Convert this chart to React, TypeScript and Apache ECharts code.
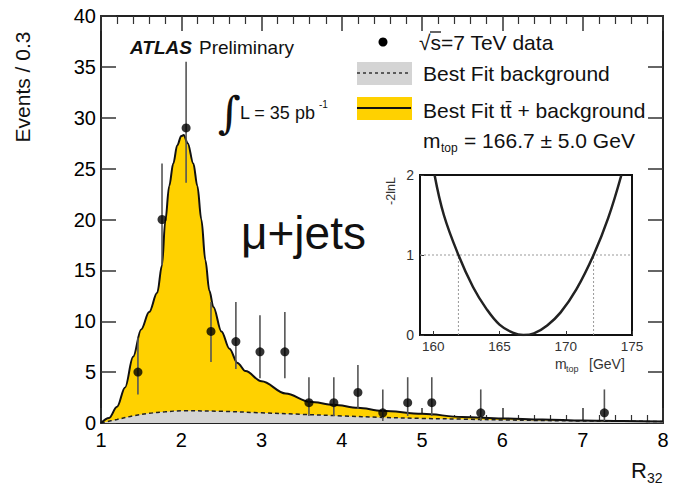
import { useEffect, useRef } from "react";
import * as echarts from "echarts";

// Measured R32 distribution (events per 0.3 bin)
const dataR32 = [1.46, 1.76, 2.06, 2.37, 2.68, 2.98, 3.29, 3.59, 3.9, 4.2, 4.51, 4.82, 5.12, 5.73, 7.27];
const dataEvents = [5, 20, 29, 9, 8, 7, 7, 2, 2, 3, 1, 2, 2, 1, 1];
const errLow = [2.8, 15.5, 23.6, 6.0, 5.3, 4.4, 4.4, 0.7, 0.7, 1.4, 0.2, 0.7, 0.7, 0.2, 0.2];
const errHigh = [8.4, 25.5, 35.5, 11.9, 11.9, 10.6, 10.9, 4.5, 4.5, 5.7, 3.3, 4.5, 4.5, 3.3, 3.3];

// Best fit ttbar + background template
const fitR32 = [1.0, 1.1, 1.2, 1.3, 1.4, 1.5, 1.6, 1.7, 1.76, 1.8, 1.85, 1.9, 1.95, 2.0, 2.03, 2.08, 2.15, 2.2, 2.25, 2.3, 2.35, 2.4, 2.5, 2.6, 2.7, 2.8, 3.0, 3.3, 3.6, 3.9, 4.2, 4.5, 5.0, 5.5, 6.0, 6.5, 7.0, 7.5, 8.0];
const fitTotal = [0, 0.5, 1.6, 3.5, 6.5, 9.2, 10.9, 12.8, 15.5, 19.8, 23.3, 25.5, 27.3, 28.2, 28.3, 27.5, 25.5, 23.3, 20.0, 16.0, 13.0, 11.4, 9.0, 7.3, 5.9, 5.1, 4.1, 2.9, 2.1, 1.8, 1.5, 1.2, 0.9, 0.6, 0.45, 0.35, 0.25, 0.2, 0.15];

// Best fit background only
const bkgR32 = [1.0, 1.2, 1.4, 1.6, 1.8, 2.0, 2.5, 3.0, 3.5, 4.0, 4.5, 5.0, 5.5, 6.0, 7.0, 8.0];
const bkgEvents = [0, 0.35, 0.7, 0.95, 1.1, 1.2, 1.15, 1.0, 0.85, 0.7, 0.55, 0.45, 0.38, 0.3, 0.2, 0.15];

// Likelihood scan in m_top
const scanMass = [160.1, 160.8, 161.9, 163, 164, 165, 166, 166.8, 167.6, 168.6, 169.6, 170.8, 172.1, 173.2, 174.2];
const scanNll = [2.0, 1.5, 1.0, 0.6, 0.33, 0.13, 0.03, 0, 0.02, 0.12, 0.28, 0.57, 1.0, 1.46, 2.0];
const scanOneSigma = [161.9, 172.1];
const massTicks = [160, 165, 170, 175];

const FONT = '"Liberation Sans", Arial, Helvetica, sans-serif';
const YELLOW = "#FFD100";
const GREY = "#d4d4d4";

function text(x: number, y: number, str: string, size: number, extra: any = {}) {
  const { style, ...rest } = extra;
  return {
    type: "text",
    x,
    y,
    z: 100,
    ...rest,
    style: {
      text: str,
      font: `${size}px ${FONT}`,
      fill: "#111",
      align: "left",
      verticalAlign: "middle",
      textAlign: "left",
      textVerticalAlign: "middle",
      ...(style || {}),
    },
  };
}

export default function App() {
  const ref = useRef<HTMLDivElement>(null);

  useEffect(() => {
    if (!ref.current) return;
    const chart = echarts.init(ref.current, null, { renderer: "svg" });

    const frameLine = { show: true, onZero: false, lineStyle: { color: "#222", width: 2 } };
    const majorTick = { show: true, inside: true, length: 15, lineStyle: { color: "#333", width: 1.5 } };
    const minorX = { show: true, splitNumber: 5, length: 8, lineStyle: { color: "#333", width: 1.2 } };
    const tickLabel = { fontSize: 20, color: "#000", fontFamily: FONT };

    const points = dataR32.map((x, i) => [x, dataEvents[i]]);
    const bars = dataR32.map((x, i) => [x, errLow[i], errHigh[i]]);
    const total = fitR32.map((x, i) => [x, fitTotal[i]]);
    const bkg = bkgR32.map((x, i) => [x, bkgEvents[i]]);
    const scan = scanMass.map((m, i) => [m, scanNll[i]]);

    const dotted = { color: "#999", width: 1, type: [2, 2] as any };

    chart.setOption({
      animation: false,
      backgroundColor: "#fff",
      grid: [
        { left: 101, top: 16, width: 562, height: 407, outerBoundsMode: "none" },
        {
          left: 420, top: 175, width: 212, height: 160, outerBoundsMode: "none",
          show: true, backgroundColor: "#fff", borderColor: "#111", borderWidth: 2, z: 5,
        },
      ],
      xAxis: [
        {
          type: "value", gridIndex: 0, position: "bottom", min: 1, max: 8, interval: 1,
          axisLine: frameLine, axisTick: majorTick, minorTick: minorX, splitLine: { show: false },
          axisLabel: { ...tickLabel, margin: 7, showMinLabel: true, showMaxLabel: true },
        },
        {
          type: "value", gridIndex: 0, position: "top", min: 1, max: 8, interval: 1,
          axisLine: frameLine, axisTick: majorTick, minorTick: minorX, splitLine: { show: false },
          axisLabel: { show: false },
        },
        {
          type: "value", gridIndex: 1, position: "bottom", min: 159, max: 175, z: 6,
          axisLine: { show: true, onZero: false, lineStyle: { color: "#111", width: 2 } },
          axisTick: { show: true, inside: true, length: 4, customValues: massTicks, lineStyle: { color: "#333" } },
          splitLine: { show: false },
          axisLabel: { fontSize: 13.5, color: "#333", fontFamily: FONT, margin: 4, customValues: massTicks },
        },
      ],
      yAxis: [
        {
          type: "value", gridIndex: 0, position: "left", min: 0, max: 40, interval: 5,
          axisLine: frameLine, axisTick: majorTick, splitLine: { show: false },
          axisLabel: { ...tickLabel, margin: 5, showMinLabel: true },
        },
        {
          type: "value", gridIndex: 0, position: "right", min: 0, max: 40, interval: 5,
          axisLine: frameLine, axisTick: majorTick, splitLine: { show: false },
          axisLabel: { show: false },
        },
        {
          type: "value", gridIndex: 1, position: "left", min: 0, max: 2, interval: 1, z: 6,
          axisLine: { show: true, onZero: false, lineStyle: { color: "#111", width: 2 } },
          axisTick: { show: true, inside: true, length: 4, lineStyle: { color: "#333" } },
          splitLine: { show: false },
          axisLabel: { fontSize: 14, color: "#333", fontFamily: FONT, margin: 6 },
        },
      ],
      series: [
        {
          name: "total-area", type: "line", xAxisIndex: 0, yAxisIndex: 0, data: total,
          smooth: 0.35, smoothMonotone: "x", showSymbol: false, z: 1,
          lineStyle: { width: 0 }, areaStyle: { color: YELLOW, opacity: 1 },
        },
        {
          name: "background", type: "line", xAxisIndex: 0, yAxisIndex: 0, data: bkg,
          smooth: 0.35, showSymbol: false, z: 2,
          lineStyle: { color: "#222", width: 1.5, type: [4, 3] },
          areaStyle: { color: GREY, opacity: 1 },
        },
        {
          name: "total-line", type: "line", xAxisIndex: 0, yAxisIndex: 0, data: total,
          smooth: 0.35, smoothMonotone: "x", showSymbol: false, z: 3,
          lineStyle: { color: "#111", width: 2 },
        },
        {
          name: "errors", type: "custom", xAxisIndex: 0, yAxisIndex: 0, data: bars, z: 4,
          encode: { x: 0, y: [1, 2] },
          renderItem: (_p: any, api: any) => {
            const lo = api.coord([api.value(0), api.value(1)]);
            const hi = api.coord([api.value(0), api.value(2)]);
            return {
              type: "line",
              shape: { x1: lo[0], y1: lo[1], x2: hi[0], y2: hi[1] },
              style: { stroke: "#555", lineWidth: 1.6 },
            };
          },
        },
        {
          name: "data", type: "scatter", xAxisIndex: 0, yAxisIndex: 0, data: points, z: 5,
          symbol: "circle", symbolSize: 9, itemStyle: { color: "#000" },
        },
        {
          name: "one-sigma-h", type: "line", xAxisIndex: 2, yAxisIndex: 2, z: 6,
          data: [[159, 1], [175, 1]], showSymbol: false, lineStyle: dotted,
        },
        {
          name: "one-sigma-lo", type: "line", xAxisIndex: 2, yAxisIndex: 2, z: 6,
          data: [[scanOneSigma[0], 0], [scanOneSigma[0], 1]], showSymbol: false, lineStyle: dotted,
        },
        {
          name: "one-sigma-hi", type: "line", xAxisIndex: 2, yAxisIndex: 2, z: 6,
          data: [[scanOneSigma[1], 0], [scanOneSigma[1], 1]], showSymbol: false, lineStyle: dotted,
        },
        {
          name: "scan", type: "line", xAxisIndex: 2, yAxisIndex: 2, data: scan, z: 7,
          smooth: 0.4, showSymbol: false, lineStyle: { color: "#222", width: 2.5 },
        },
      ],
      graphic: [
        text(130, 47, "ATLAS", 19, { style: { font: `italic bold 19px ${FONT}` } }),
        text(199, 47, "Preliminary", 19),
        text(218, 112, "\u222B", 44, { style: { font: `44px "DejaVu Serif", serif` } }),
        text(240, 113, "L = 35 pb", 18),
        text(319, 104, "-1", 10),
        text(241, 233, "\u03BC+jets", 46),
        // legend
        { type: "circle", z: 100, shape: { cx: 383, cy: 42, r: 4.5 }, style: { fill: "#000" } },
        text(419, 42, "\u221As=7 TeV data", 21),
        {
          type: "line", z: 101, shape: { x1: 430, y1: 32, x2: 441, y2: 32 },
          style: { stroke: "#111", lineWidth: 1.3 },
        },
        { type: "rect", z: 100, shape: { x: 357, y: 62, width: 55, height: 23 }, style: { fill: GREY } },
        {
          type: "line", z: 101, shape: { x1: 357, y1: 73, x2: 411, y2: 73 },
          style: { stroke: "#333", lineWidth: 1.5, lineDash: [3, 3] },
        },
        text(423, 73, "Best Fit background", 21),
        { type: "rect", z: 100, shape: { x: 357, y: 97, width: 55, height: 23 }, style: { fill: YELLOW } },
        {
          type: "line", z: 101, shape: { x1: 357, y1: 108, x2: 411, y2: 108 },
          style: { stroke: "#111", lineWidth: 2 },
        },
        text(423, 110, "Best Fit tt\u0304 + background", 21),
        text(423, 140, "m", 21),
        text(441, 148, "top", 12),
        text(464, 140, "= 166.7 \u00B1 5.0 GeV", 21),
        // axis titles
        text(22, 87, "Events / 0.3", 21, {
          rotation: Math.PI / 2,
          style: { align: "center", textAlign: "center" },
        }),
        text(631, 470, "R", 22),
        text(647, 478, "32", 14),
        // inset titles
        text(391, 191, "-2lnL", 12.5, {
          rotation: Math.PI / 2,
          style: { align: "center", textAlign: "center", fill: "#333" },
        }),
        text(555, 364, "m", 14, { style: { fill: "#333" } }),
        text(566, 369, "top", 9, { style: { fill: "#333" } }),
        text(589, 364, "[GeV]", 14, { style: { fill: "#333" } }),
      ],
    });

    return () => chart.dispose();
  }, []);

  return (
    <div
      ref={ref}
      style={{ position: "fixed", left: 0, top: 0, width: 675, height: 485, background: "#fff" }}
    />
  );
}
